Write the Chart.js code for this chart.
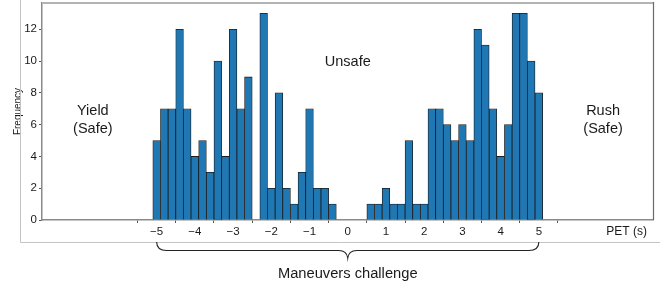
<!DOCTYPE html>
<html>
<head>
<meta charset="utf-8">
<script src="https://cdn.jsdelivr.net/npm/chart.js@4/dist/chart.umd.min.js"></script>
<style>
    html, body { margin: 0; padding: 0; background: #fff; }
    #wrap { width: 672px; height: 286px; }
</style>
</head>
<body>
<div id="wrap"><canvas id="petChart" width="672" height="286"></canvas></div>
<script>
//__________ 資料 __________//
// bin centers (PET, s), 0.2 s wide bins
var binCenters = [
    -5.0, -4.8, -4.6, -4.4, -4.2, -4.0, -3.8, -3.6, -3.4, -3.2,
    -3.0, -2.8, -2.6, -2.4, -2.2, -2.0, -1.8, -1.6, -1.4, -1.2,
    -1.0, -0.8, -0.6, -0.4, -0.2, 0.0, 0.2, 0.4, 0.6, 0.8,
    1.0, 1.2, 1.4, 1.6, 1.8, 2.0, 2.2, 2.4, 2.6, 2.8,
    3.0, 3.2, 3.4, 3.6, 3.8, 4.0, 4.2, 4.4, 4.6, 4.8,
    5.0
];
var frequency = [
    5, 7, 7, 12, 7, 4, 5, 3, 10, 4,
    12, 7, 9, 0, 13, 2, 8, 2, 1, 3,
    7, 2, 2, 1, 0, 0, 0, 0, 1, 1,
    2, 1, 1, 5, 1, 1, 7, 7, 6, 5,
    6, 5, 12, 11, 7, 4, 6, 13, 13, 10,
    8
];
var xTicks = [-5, -4, -3, -2, -1, 0, 1, 2, 3, 4, 5];
var yTicks = [0, 2, 4, 6, 8, 10, 12];

// zone labels: [text lines, x value, y value of first baseline]
var zoneLabels = [
    [["Yield", "(Safe)"], -6.67, 6.6],
    [["Unsafe"], 0, 9.7],
    [["Rush", "(Safe)"], 6.68, 6.6]
];

var FONT = "'Liberation Sans', Arial, sans-serif";
var TEXT = "#1a1a1a";

//__________ 額外繪製：外框、文字、大括號 __________//
var decorPlugin = {
    id: "decor",
    afterDraw: function(chart){
        var ctx = chart.ctx;
        var area = chart.chartArea;
        var xs = chart.scales.x;
        var ys = chart.scales.y;
        ctx.save();

        // outer figure box (left + bottom)
        ctx.strokeStyle = "#c4c4c4";
        ctx.lineWidth = 1;
        ctx.beginPath();
        ctx.moveTo(20.5, 0);
        ctx.lineTo(20.5, 242.5);
        ctx.lineTo(660, 242.5);
        ctx.stroke();

        // top + right of the plot box
        ctx.strokeStyle = "#b4b4b4";
        ctx.lineWidth = 2;
        ctx.beginPath();
        ctx.moveTo(area.left, area.top);
        ctx.lineTo(area.right, area.top);
        ctx.stroke();
        ctx.strokeStyle = "#6a6a6a";
        ctx.lineWidth = 1.2;
        ctx.beginPath();
        ctx.moveTo(area.right, area.top - 1);
        ctx.lineTo(area.right, area.bottom);
        ctx.stroke();

        // zone labels
        ctx.fillStyle = TEXT;
        ctx.font = "14.5px " + FONT;
        ctx.textAlign = "center";
        ctx.textBaseline = "alphabetic";
        zoneLabels.forEach(function(z){
            var px = xs.getPixelForValue(z[1]);
            var py = ys.getPixelForValue(z[2]);
            for(var i=0; i<z[0].length; i++){
                ctx.fillText(z[0][i], px, py + i*17.7);
            }
        });

        // axis name at the right end
        ctx.font = "12px " + FONT;
        ctx.textAlign = "right";
        ctx.textBaseline = "middle";
        ctx.fillText("PET (s)", 647, 232);

        // brace under the axis
        var x0 = xs.getPixelForValue(-5);
        var xm = xs.getPixelForValue(0);
        var x1 = xs.getPixelForValue(5);
        var yTop = 242, yMid = 250.5, yTip = 258;
        ctx.strokeStyle = "#222";
        ctx.lineWidth = 1.1;
        ctx.beginPath();
        ctx.moveTo(x0, yTop);
        ctx.quadraticCurveTo(x0, yMid, x0 + 10, yMid);
        ctx.lineTo(xm - 9, yMid);
        ctx.quadraticCurveTo(xm - 1, yMid, xm, yTip);
        ctx.quadraticCurveTo(xm + 1, yMid, xm + 9, yMid);
        ctx.lineTo(x1 - 10, yMid);
        ctx.quadraticCurveTo(x1, yMid, x1, yTop);
        ctx.stroke();

        ctx.font = "14.7px " + FONT;
        ctx.textAlign = "center";
        ctx.textBaseline = "alphabetic";
        ctx.fillText("Maneuvers challenge", xm, 277.5);

        ctx.restore();
    }
};

//__________ 直方圖 __________//
window.addEventListener("load", function(){
    var ctx = document.getElementById("petChart").getContext("2d");
    var points = binCenters.map(function(x, i){
        return {x: x, y: frequency[i]};
    });

    new Chart(ctx, {
        type: "bar",
        data: {
            datasets: [{
                data: points,
                backgroundColor: "#1f77b4",
                borderColor: "#1c1c1c",
                borderWidth: 0.8,
                barPercentage: 1,
                categoryPercentage: 1,
                grouped: false
            }]
        },
        options: {
            responsive: false,
            animation: false,
            devicePixelRatio: 1,
            layout: { padding: { left: 0, top: 3, right: 18.5, bottom: 0 } },
            plugins: {
                legend: { display: false },
                tooltip: { enabled: false }
            },
            scales: {
                x: {
                    type: "linear",
                    offset: false,
                    min: -8,
                    max: 8,
                    afterBuildTicks: function(axis){
                        axis.ticks = xTicks.map(function(v){ return {value: v}; });
                    },
                    afterFit: function(axis){
                        axis.height = 66;
                        axis.paddingLeft = 0;
                        axis.paddingRight = 0;
                    },
                    grid: { drawOnChartArea: false, drawTicks: true, tickLength: 3, color: "#555", lineWidth: 1 },
                    border: { color: "#8a8a8a", width: 1.5 },
                    ticks: {
                        autoSkip: false,
                        maxRotation: 0,
                        padding: 2,
                        color: TEXT,
                        font: { family: FONT, size: 11.5 },
                        callback: function(v){ return String(v).replace("-", "\u2212"); }
                    }
                },
                y: {
                    min: 0,
                    max: 13.65,
                    afterBuildTicks: function(axis){
                        axis.ticks = yTicks.map(function(v){ return {value: v}; });
                    },
                    afterFit: function(axis){
                        axis.width = 42;
                        axis.paddingTop = 0;
                        axis.paddingBottom = 0;
                    },
                    grid: { drawOnChartArea: false, drawTicks: true, tickLength: 3, color: "#555", lineWidth: 1 },
                    border: { color: "#8a8a8a", width: 1.5 },
                    ticks: {
                        padding: 2,
                        color: TEXT,
                        font: { family: FONT, size: 11.5 }
                    },
                    title: {
                        display: true,
                        text: "Frequency",
                        color: TEXT,
                        font: { family: FONT, size: 10 },
                        padding: { top: 12, bottom: 0 }
                    }
                }
            }
        },
        plugins: [decorPlugin]
    });
});
</script>
</body>
</html>
